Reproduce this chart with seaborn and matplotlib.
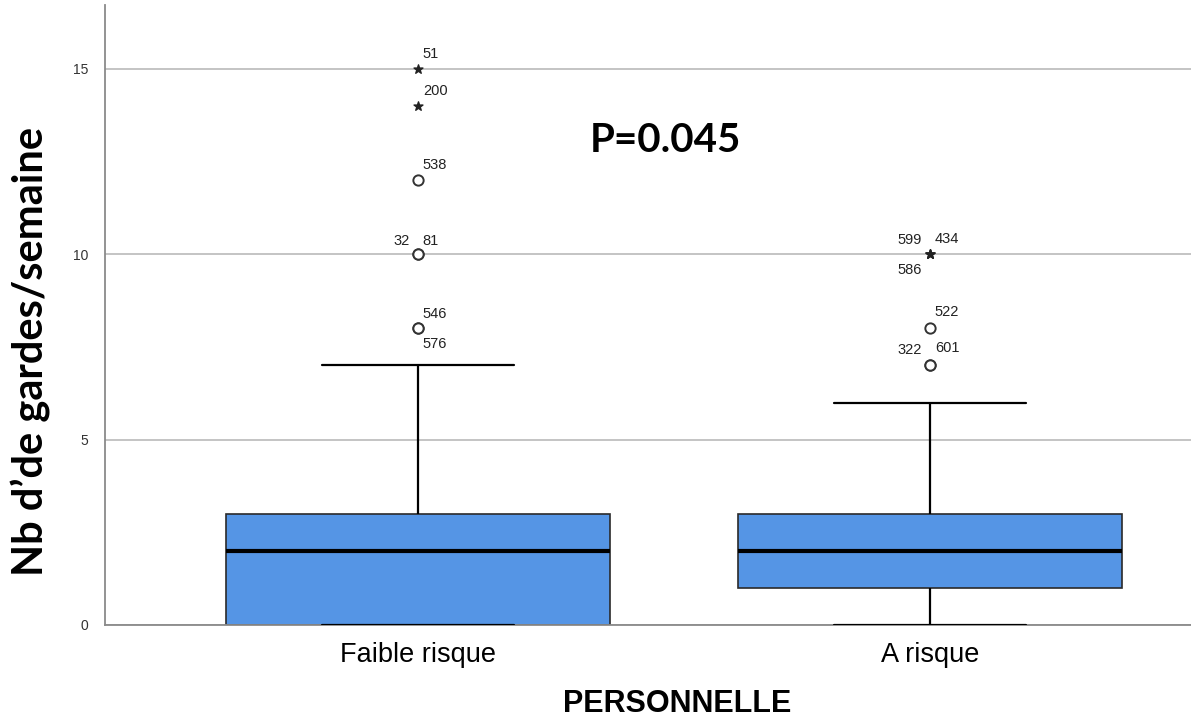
import numpy as np
import pandas as pd
import matplotlib
matplotlib.use("Agg")
import matplotlib.pyplot as plt
import seaborn as sns

# ---- data ----
categories = ["Faible risque", "A risque"]
faible_values = [0, 0, 0, 0, 0, 0, 0, 0, 0, 0, 0,
                 1, 1, 1, 1,
                 2, 2, 2, 2, 2, 2, 2, 2,
                 3, 3, 3, 3, 3, 3, 3, 3,
                 4, 5, 7,
                 8, 8, 10, 10, 12, 14, 15]
arisque_values = [0, 0, 0, 0,
                  1, 1, 1, 1, 1, 1, 1,
                  2, 2, 2, 2, 2, 2, 2, 2,
                  3, 3, 3, 3, 3, 3,
                  4, 6,
                  7, 7, 8, 10, 10, 10]
faible_case_ids = ["546", "576", "32", "81", "538", "200", "51"]
arisque_case_ids = ["322", "601", "522", "599", "434", "586"]
p_text = "P=0.045"
y_ticks = [0, 5, 10, 15]

# ---- styling (label placement around markers, in pixels) ----
label_place = {
    "546": (5, -14, "left"), "576": (5, 16, "left"),
    "32": (-8, -13, "right"), "81": (5, -13, "left"),
    "538": (5, -15, "left"), "200": (5, -15, "left"), "51": (5, -15, "left"),
    "322": (-8, -15, "right"), "601": (5, -17, "left"),
    "522": (5, -16, "left"),
    "599": (-8, -14, "right"), "434": (5, -15, "left"), "586": (-8, 16, "right"),
}

df = pd.DataFrame({
    "group": [categories[0]] * len(faible_values) + [categories[1]] * len(arisque_values),
    "value": faible_values + arisque_values,
})

sns.set_style("white")
plt.rcParams["text.color"] = "black"
fig = plt.figure(figsize=(11.91, 7.21), dpi=100)
ax = fig.add_axes([105 / 1191, 1 - 625 / 721, 1 - 105 / 1191, 620 / 721])

box_color = "#5595e5"
sns.boxplot(data=df, x="group", y="value", order=categories, ax=ax,
            color=box_color, width=0.75, whis=1.5, showfliers=False,
            linecolor="black", linewidth=1.5,
            boxprops=dict(edgecolor="#2a2a2a", linewidth=1.2),
            medianprops=dict(color="black", linewidth=3),
            whiskerprops=dict(color="black", linewidth=1.6),
            capprops=dict(color="black", linewidth=1.6, zorder=4),
            saturation=1)

# outliers (circles) and extremes (stars), SPSS style
for i, (vals, ids) in enumerate([(faible_values, faible_case_ids),
                                 (arisque_values, arisque_case_ids)]):
    v = np.array(vals, dtype=float)
    q1, q3 = np.percentile(v, [25, 75])
    iqr = q3 - q1
    out = np.sort(v[(v > q3 + 1.5 * iqr) | (v < q1 - 1.5 * iqr)])
    ext = (out > q3 + 3 * iqr) | (out < q1 - 3 * iqr)
    xs = np.full(len(out), i)
    ax.scatter(xs[~ext], out[~ext], s=55, facecolors="white", edgecolors="#333333",
               linewidths=1.4, zorder=5)
    ax.scatter(xs[ext], out[ext], s=45, marker="*", color="#222222", zorder=5)
    for val, cid in zip(out, ids):
        dx, dy, ha = label_place[cid]
        ax.annotate(cid, (i, val), xytext=(dx, -dy), textcoords="offset pixels",
                    ha=ha, va="center", fontsize=10.5, color="#222222",
                    family="Liberation Sans")

ax.set_xlim(-0.611, 1.51)
ax.set_ylim(0, 16.72)
ax.set_yticks(y_ticks)
ax.set_yticklabels([str(t) for t in y_ticks], fontsize=10, color="#333333",
                   family="Liberation Sans")
ax.tick_params(axis="y", length=0, pad=12)
ax.tick_params(axis="x", length=0, pad=12)
for lbl in ax.get_xticklabels():
    lbl.set_fontsize(19.5)
    lbl.set_family("Liberation Sans")
    lbl.set_color("black")

ax.yaxis.grid(True, color="#c4c4c4", linewidth=1.4)
ax.xaxis.grid(False)
ax.set_axisbelow(True)
for s in ["top", "right"]:
    ax.spines[s].set_visible(False)
ax.spines["left"].set_color("#8a8a8a")
ax.spines["bottom"].set_color("#8a8a8a")
ax.spines["left"].set_linewidth(1.3)
ax.spines["bottom"].set_linewidth(1.3)

ax.set_xlabel("")
ax.set_ylabel("")
fig.text(677 / 1191, 1 - 704 / 721, "PERSONNELLE", ha="center", va="center",
         fontsize=22, fontweight="bold", family="Liberation Sans", color="black")
fig.text(31 / 1191, 1 - 351 / 721, "Nb d\u2019de gardes/semaine", ha="center",
         va="center", rotation=90, fontsize=30, fontweight="bold", family="Lato",
         color="black")
fig.text(665 / 1191, 1 - 140 / 721, p_text, ha="center", va="center",
         fontsize=29, fontweight="bold", family="Lato", color="black")

fig.savefig("out.png", dpi=100)
